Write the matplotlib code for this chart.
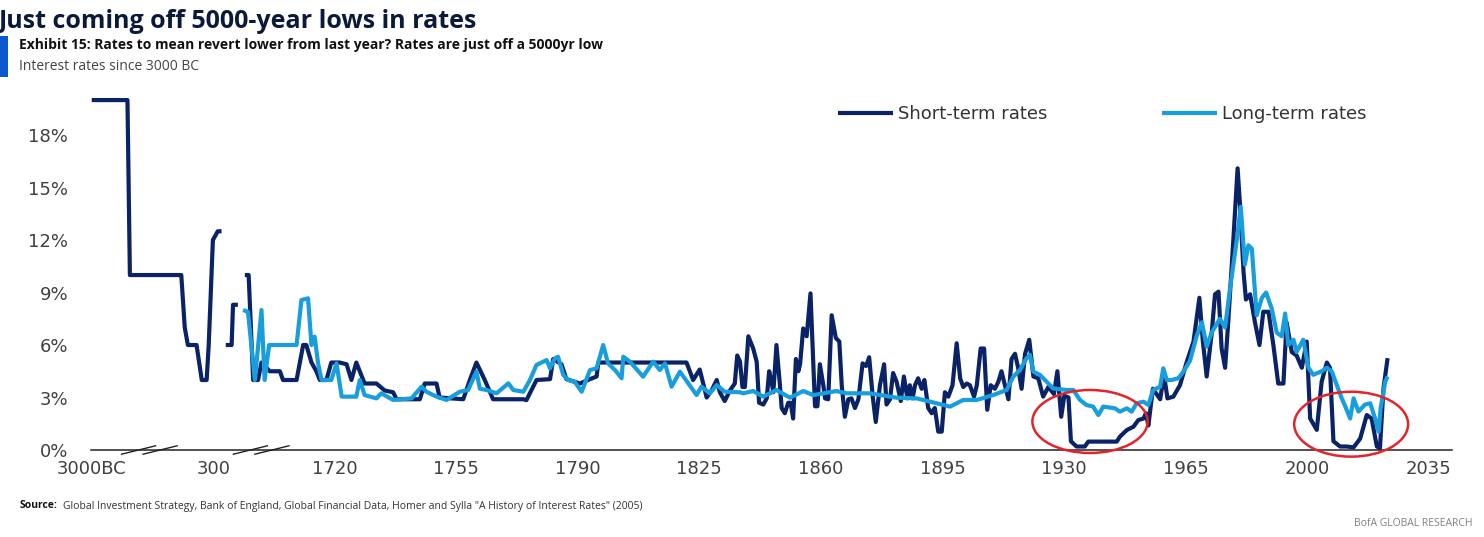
import matplotlib
matplotlib.use('Agg')
import matplotlib.pyplot as plt
from matplotlib.patches import Ellipse, Rectangle
import numpy as np

# Eje x: antes de 1720 el eje está comprimido (3000BC y 300 d.C.)
tick_pos = [1650, 1685, 1720, 1755, 1790, 1825, 1860, 1895, 1930, 1965, 2000, 2035]
tick_labels = ['3000BC', '300', '1720', '1755', '1790', '1825', '1860',
               '1895', '1930', '1965', '2000', '2035']
y_ticks = [0, 3, 6, 9, 12, 15, 18]

# Tipos antiguos (posición en el eje comprimido, %), NaN = hueco
ancient_short = [(1650, 20), (1660.3, 20), (1661, 10), (1675.8, 10), (1676.8, 7),
                 (1677.7, 6), (1680.2, 6), (1681.7, 4), (1683.1, 4), (1683.7, 6),
                 (1684.9, 12), (1686.3, 12.5), (1687.4, 12.5), (1688.0, np.nan),
                 (1688.6, 6), (1690.3, 6), (1690.7, 8.3), (1692.1, 8.3)]

# Tipos a corto plazo (año, %)
short_term = [
    (1694.1, 10.0), (1695.2, 10.0), (1696.5, 4.0), (1697.9, 4.0), (1698.9, 5.0),
    (1701.3, 4.5), (1704.2, 4.5), (1705.1, 4.0), (1709.0, 4.0), (1710.9, 6.0),
    (1711.8, 6.0), (1713.3, 5.0), (1714.7, 4.5), (1715.7, 4.0), (1717.6, 4.0),
    (1719.0, 5.0), (1721.4, 5.0), (1723.4, 4.9), (1724.8, 4.0), (1726.2, 5.0),
    (1728.6, 3.8), (1732.0, 3.8), (1734.4, 3.4), (1736.8, 3.3), (1737.8, 2.9),
    (1744.5, 2.9), (1745.9, 3.8), (1749.3, 3.8), (1750.2, 3.0), (1757.0, 2.9),
    (1758.9, 4.0), (1760.8, 5.0), (1763.2, 4.0), (1765.6, 2.9), (1774.3, 2.9),
    (1775.2, 2.85), (1778.1, 4.0), (1782.0, 4.05), (1782.9, 5.2), (1785.3, 4.9),
    (1786.7, 4.05), (1790.6, 3.8), (1793.5, 4.05), (1795.4, 4.2), (1795.9, 5.0),
    (1821.3, 5.0), (1823.2, 4.0), (1825.1, 4.6), (1827.1, 3.0), (1828.5, 3.4),
    (1830.0, 4.0), (1830.9, 3.3), (1832.3, 2.8), (1833.8, 3.4), (1835.2, 3.8),
    (1835.9, 5.4), (1836.7, 5.05), (1837.4, 3.6), (1838.1, 3.6), (1839.1, 6.5),
    (1840.5, 5.8), (1841.5, 5.05), (1842.2, 2.7), (1843.4, 2.6), (1844.4, 2.95),
    (1845.1, 4.5), (1845.8, 3.9), (1846.3, 3.3), (1847.2, 6.0), (1848.2, 3.7),
    (1848.7, 2.4), (1849.6, 2.1), (1850.6, 2.7), (1851.3, 2.7), (1852.0, 1.8),
    (1852.8, 5.2), (1853.5, 4.5), (1854.0, 4.9), (1854.9, 6.95), (1855.9, 6.5),
    (1857.0, 8.95), (1858.3, 2.5), (1859.0, 2.5), (1859.7, 4.9), (1860.7, 3.7),
    (1861.2, 2.95), (1862.1, 2.9), (1863.1, 7.7), (1864.3, 6.4), (1865.3, 6.2),
    (1866.0, 3.7), (1866.9, 1.9), (1867.9, 2.9), (1868.8, 2.95), (1869.8, 2.4),
    (1870.8, 2.9), (1872.0, 4.95), (1873.0, 4.8), (1873.9, 5.3), (1874.9, 3.1),
    (1875.8, 1.6), (1877.0, 3.7), (1878.2, 4.9), (1878.9, 2.6), (1879.9, 2.9),
    (1880.8, 4.4), (1881.8, 3.9), (1883.0, 2.8), (1883.9, 4.2), (1884.9, 2.95),
    (1885.6, 3.7), (1886.4, 2.95), (1887.1, 3.7), (1888.0, 4.1), (1889.0, 3.5),
    (1889.8, 4.0), (1890.9, 2.4), (1891.9, 2.1), (1892.8, 2.4), (1893.8, 1.05),
    (1894.8, 1.05), (1895.7, 3.3), (1896.7, 3.05), (1897.9, 3.7), (1899.1, 6.1),
    (1900.1, 4.1), (1901.0, 3.6), (1902.0, 3.8), (1902.9, 3.7), (1904.1, 3.05),
    (1904.9, 3.7), (1906.0, 5.8), (1907.0, 5.8), (1907.9, 2.3), (1908.9, 3.7),
    (1910.1, 3.5), (1911.1, 3.9), (1912.0, 4.5), (1913.0, 3.7), (1914.0, 2.9),
    (1914.9, 5.2), (1915.9, 5.5), (1916.8, 4.7), (1917.8, 3.5), (1918.8, 5.5),
    (1920.0, 6.3), (1921.2, 4.2), (1922.6, 4.1), (1924.0, 3.05), (1925.5, 3.6),
    (1927.1, 3.2), (1928.1, 4.5), (1929.2, 1.9), (1930.1, 3.1), (1931.3, 3.0),
    (1932.0, 0.5), (1933.6, 0.2), (1936.0, 0.2), (1937.0, 0.48), (1945.2, 0.48),
    (1946.1, 0.76), (1948.1, 1.14), (1950.0, 1.33), (1951.4, 1.71), (1952.9, 1.8),
    (1953.6, 2.1), (1954.3, 1.4), (1955.6, 3.5),
    (1957.7, 2.9), (1958.8, 4.3), (1959.8, 2.95), (1961.5, 3.05), (1963.4, 3.7),
    (1965.3, 5.0), (1967.3, 6.2), (1969.0, 8.7), (1970.0, 6.2), (1971.1, 4.2),
    (1972.5, 6.6), (1973.5, 8.9), (1974.5, 9.05), (1975.4, 5.8), (1976.4, 4.7),
    (1977.3, 7.3), (1978.8, 12.1), (1980.0, 16.1), (1980.7, 14.0), (1981.7, 10.2),
    (1982.4, 8.6), (1983.6, 8.9), (1985.0, 7.3), (1986.3, 6.0), (1987.4, 7.9),
    (1988.9, 7.9), (1990.3, 6.0), (1991.7, 3.8), (1993.2, 3.8), (1994.1, 7.3),
    (1995.6, 5.6), (1997.0, 5.4), (1998.5, 4.7), (1999.9, 6.2), (2000.9, 1.8),
    (2002.8, 1.15), (2004.2, 3.9), (2005.7, 5.0), (2006.6, 4.7), (2007.6, 0.5),
    (2009.5, 0.2), (2011.4, 0.2), (2013.4, 0.15), (2015.3, 0.65), (2017.2, 2.0),
    (2018.6, 1.8), (2020.1, 0.2), (2021.0, 0.1), (2022.0, 3.5), (2023.2, 5.25)]

# Tipos a largo plazo (año, %)
long_term = [
    (1693.6, 8.0), (1695.0, 7.9), (1697.0, 4.0), (1698.9, 8.0), (1699.8, 4.0),
    (1701.1, 6.0), (1709.0, 6.0), (1710.4, 8.57), (1712.3, 8.67), (1713.3, 6.0),
    (1714.2, 6.48), (1715.2, 4.95), (1716.2, 4.0), (1719.0, 4.0), (1720.5, 4.95),
    (1722.0, 3.05), (1726.2, 3.05), (1727.2, 4.0), (1728.6, 3.14), (1732.0, 2.95),
    (1733.4, 3.24), (1736.8, 2.86), (1742.1, 2.95), (1745.0, 3.62), (1746.4, 3.33),
    (1749.3, 3.05), (1752.2, 2.86), (1756.0, 3.33), (1758.4, 3.43), (1760.8, 4.48),
    (1761.8, 3.5), (1763.7, 3.43), (1766.6, 3.24), (1770.0, 3.81), (1771.4, 3.43),
    (1774.3, 3.33), (1776.2, 4.0), (1778.1, 4.86), (1781.0, 5.14), (1782.0, 4.67),
    (1783.4, 5.24), (1784.3, 5.33), (1785.8, 4.29), (1787.2, 4.0), (1789.1, 3.9),
    (1791.1, 3.33), (1793.5, 4.57), (1795.4, 4.67), (1797.3, 6.0), (1798.7, 4.95),
    (1800.7, 4.57), (1802.6, 4.1), (1803.1, 5.33), (1805.0, 5.05), (1808.8, 4.19),
    (1811.7, 5.05), (1813.6, 4.57), (1815.1, 4.95), (1817.0, 3.62), (1819.4, 4.48),
    (1824.2, 3.14), (1825.6, 3.62), (1828.0, 3.24), (1830.0, 3.71), (1832.3, 3.33),
    (1836.7, 3.3), (1837.6, 3.24), (1840.5, 3.37), (1843.4, 3.05), (1847.2, 3.43),
    (1851.1, 2.99), (1854.9, 3.37), (1857.8, 3.14), (1864.5, 3.37), (1867.4, 3.24),
    (1874.1, 3.24), (1881.8, 2.99), (1887.6, 2.95), (1893.3, 2.67), (1897.2, 2.48),
    (1901.0, 2.86), (1904.9, 2.86), (1909.6, 3.14), (1913.5, 3.43), (1915.4, 4.19),
    (1917.3, 4.57), (1919.2, 5.24), (1920.2, 5.43), (1921.2, 4.48), (1923.1, 4.29),
    (1925.0, 3.9), (1926.9, 3.52), (1930.8, 3.43), (1932.7, 3.43), (1934.6, 2.86),
    (1936.5, 2.57), (1938.4, 2.48), (1939.9, 2.0), (1941.3, 2.48), (1944.7, 2.38),
    (1946.1, 2.19), (1948.1, 2.38), (1949.5, 2.19), (1950.9, 2.67), (1952.9, 2.76),
    (1954.3, 2.57), (1955.7, 3.43), (1957.7, 3.62), (1958.6, 4.67), (1959.6, 4.0),
    (1961.0, 4.0), (1962.9, 4.1), (1964.4, 4.48), (1966.3, 5.1), (1968.2, 6.5),
    (1969.7, 7.3), (1971.1, 5.9), (1972.5, 6.7), (1974.9, 7.5), (1976.4, 7.0),
    (1977.8, 9.2), (1979.7, 11.9), (1980.9, 13.9), (1982.1, 10.6), (1983.1, 11.7),
    (1984.1, 11.5), (1985.5, 7.7), (1987.0, 8.7), (1988.2, 9.0), (1989.8, 8.1),
    (1991.3, 6.7), (1992.7, 6.5), (1993.7, 7.8), (1994.6, 6.0), (1996.1, 6.3),
    (1997.0, 5.6), (1998.9, 6.3), (2000.4, 4.7), (2001.8, 4.3), (2004.2, 4.5),
    (2005.7, 4.7), (2007.1, 4.5), (2008.6, 3.7), (2010.0, 2.95), (2011.0, 2.5),
    (2012.4, 1.8), (2013.4, 2.95), (2014.8, 2.2), (2016.7, 2.6), (2018.2, 2.67),
    (2019.6, 1.8), (2020.6, 1.05), (2021.2, 2.4), (2022.5, 3.9), (2023.2, 4.2)]

# Periodos marcados con elipses (año inicial, año final, % bajo, % alto)
highlight_periods = [(1920.9, 1954.1, -0.17, 3.43), (1996.3, 2029.1, -0.38, 3.33)]
axis_breaks = [1666.6, 1698.8]

dark = '#0a2266'
light = '#189ddd'

fig = plt.figure(figsize=(14.84, 5.37), dpi=100)
W, H = 1484, 537
ax = fig.add_axes([91 / W, 87 / H, 1360.5 / W, 355 / H])

ax_x, ax_y = zip(*ancient_short)
ax.plot(ax_x, ax_y, color=dark, lw=3.0, solid_capstyle='butt')
sx, sy = zip(*short_term)
l1, = ax.plot(sx, sy, color=dark, lw=3.0, solid_capstyle='butt', label='Short-term rates')
lx, ly = zip(*long_term)
l2, = ax.plot(lx, ly, color=light, lw=3.0, solid_capstyle='butt', label='Long-term rates')

# Elipses rojas
for a, b, lo, hi in highlight_periods:
    ax.add_patch(Ellipse(((a + b) / 2, (lo + hi) / 2), b - a, hi - lo, fill=False,
                         edgecolor='#e3242b', lw=1.8, clip_on=False, zorder=5))

# Marcas de corte del eje
for c in axis_breaks:
    for dx in (-3.1, 3.1):
        ax.plot([c + dx - 4.9, c + dx + 4.9], [-0.24, 0.24], color='#222222',
                lw=1.0, clip_on=False)

ax.set_xlim(1649.8, 2041.6)
ax.set_ylim(0, 20.29)
ax.set_xticks(tick_pos)
ax.set_xticklabels(tick_labels)
ax.set_yticks(y_ticks)
ax.set_yticklabels([f'{v}%' for v in y_ticks])
ax.tick_params(axis='both', length=0, labelsize=13, labelcolor='#404040')
ax.tick_params(axis='y', pad=16.5)
ax.tick_params(axis='x', pad=7)
for s in ['top', 'right', 'left']:
    ax.spines[s].set_visible(False)
ax.spines['bottom'].set_color('#222222')
ax.spines['bottom'].set_linewidth(1.1)

leg = ax.legend(handles=[l1, l2], loc='center left',
                bbox_to_anchor=(838 / W, 1 - 114 / H), bbox_transform=fig.transFigure,
                ncol=2, frameon=False, fontsize=13, handlelength=3.05,
                handletextpad=0.3, columnspacing=6.3, borderpad=0, borderaxespad=0)
for t in leg.get_texts():
    t.set_color('#333333')

# Títulos
fig.text(-0.001, 1 - 28 / H, 'Just coming off 5000-year lows in rates', fontsize=18,
         fontweight='bold', family='Open Sans', color='#0b1a3a', va='baseline')
fig.add_artist(Rectangle((0, 1 - 77 / H), 8 / W, 41 / H, transform=fig.transFigure,
                         color='#0b57d0', lw=0))
fig.text(19 / W, 1 - 45 / H,
         'Exhibit 15: Rates to mean revert lower from last year? Rates are just off a 5000yr low',
         fontsize=10, fontweight='bold', family='Open Sans', color='#111111', va='center')
fig.text(19 / W, 1 - 66 / H, 'Interest rates since 3000 BC', fontsize=10,
         family='Open Sans', color='#444444', va='center')

# Fuente
src = fig.text(20 / W, 1 - 506 / H, 'Source:', fontsize=7.5, fontweight='bold',
               family='Open Sans', color='#111111', va='center')
fig.canvas.draw()
bb = src.get_window_extent(fig.canvas.get_renderer())
fig.text(bb.x1 / W + 5 / W, 1 - 506 / H,
         'Global Investment Strategy, Bank of England, Global Financial Data, '
         'Homer and Sylla "A History of Interest Rates" (2005)',
         fontsize=7.5, family='Open Sans', color='#333333', va='center')
fig.text(1472 / W, 1 - 523 / H, 'BofA GLOBAL RESEARCH', fontsize=7.5,
         family='Open Sans', color='#808080', va='center', ha='right')

fig.savefig('out.png', dpi=100)
